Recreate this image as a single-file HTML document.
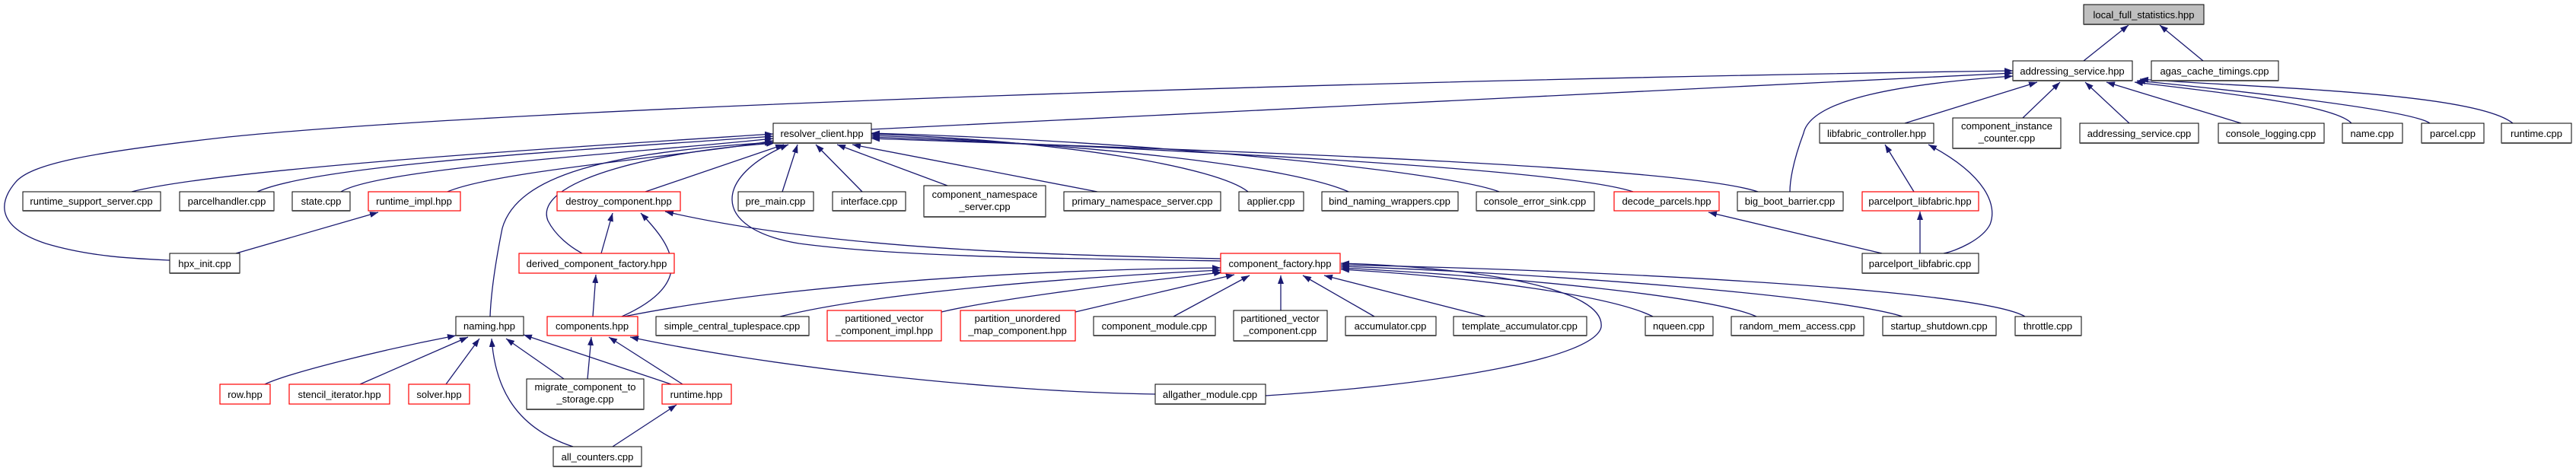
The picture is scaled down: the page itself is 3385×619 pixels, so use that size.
<!DOCTYPE html>
<html><head><meta charset="utf-8"><style>
html,body{margin:0;padding:0;background:#fff;}
svg{display:block;}
text{font-family:"Liberation Sans",Arial,sans-serif;font-size:13px;fill:#000;text-anchor:middle;}
.b{fill:#fff;stroke:#000;stroke-width:1;}
.r{fill:#fff;stroke:#ff0000;stroke-width:1.2;}
.g{fill:#bfbfbf;stroke:#000;stroke-width:1;}
.s{stroke:#555;stroke-width:2;}
.e{fill:none;stroke:#191970;stroke-width:1.3;marker-start:url(#a);}
</style></head><body>
<svg width="3385" height="619" viewBox="0 0 3385 619" xmlns="http://www.w3.org/2000/svg">
<defs><marker id="a" viewBox="0 0 11 8" refX="11" refY="4" markerWidth="11" markerHeight="8" markerUnits="userSpaceOnUse" orient="auto-start-reverse"><path d="M0,0 L11,4 L0,8 z" fill="#191970"/></marker></defs>

<!-- edges -->
<path class="e" d="M2797,33 L2738,80"/>
<path class="e" d="M2838,33 L2895,80"/>
<path class="e" d="M2677,108 L2503,162"/>
<path class="e" d="M2707,108 L2658,155"/>
<path class="e" d="M2740,108 L2798,162"/>
<path class="e" d="M2768,108 L2945,162"/>
<path class="e" d="M2805,108 C2950,125 3070,140 3090,162"/>
<path class="e" d="M2808,106 C2950,120 3170,145 3193,162"/>
<path class="e" d="M2812,104 C2950,115 3250,120 3302,162"/>
<path class="e" d="M2645,100 C2500,110 2380,130 2370,175 C2355,215 2352,240 2352,252"/>
<path class="e" d="M2645,96 L1145,170"/>
<path class="e" d="M2645,93 C1800,105 700,140 300,180 C120,200 40,215 20,240 C-5,270 0,300 60,320 C120,338 180,340 223,342"/>

<path class="e" d="M1016,176 C800,190 300,220 173,252"/>
<path class="e" d="M1016,179 C800,195 420,215 338,252"/>
<path class="e" d="M1016,182 C850,200 500,220 448,252"/>
<path class="e" d="M1016,185 C900,205 650,225 588,252"/>
<path class="e" d="M1016,187 C800,200 680,230 660,300 C650,350 645,390 644,416"/>
<path class="e" d="M1018,188 C850,200 700,240 720,290 C730,310 750,325 765,333"/>
<path class="e" d="M1030,190 L848,252"/>
<path class="e" d="M1048,190 L1028,252"/>
<path class="e" d="M1072,190 L1133,252"/>
<path class="e" d="M1100,190 L1245,244"/>
<path class="e" d="M1120,190 L1442,252"/>
<path class="e" d="M1036,190 C940,230 930,300 1050,320 C1200,340 1450,340 1604,343"/>
<path class="e" d="M1145,176 C1400,185 1600,220 1640,252"/>
<path class="e" d="M1145,178 C1450,190 1700,220 1772,252"/>
<path class="e" d="M1145,175 C1500,185 1900,225 1970,252"/>
<path class="e" d="M1145,180 C1500,195 2050,220 2146,252"/>
<path class="e" d="M1145,182 C1500,195 2200,215 2310,252"/>

<path class="e" d="M874,278 C1100,330 1400,335 1604,340"/>
<path class="e" d="M842,280 C880,320 920,370 817,416"/>
<path class="e" d="M783,361 L779,416"/>
<path class="e" d="M805,280 L790,333"/>
<path class="e" d="M497,279 L310,333"/>

<path class="e" d="M1604,352 C1300,355 1000,380 820,416"/>
<path class="e" d="M1604,355 C1400,365 1150,385 1025,416"/>
<path class="e" d="M1606,358 C1450,375 1300,395 1237,410"/>
<path class="e" d="M1622,361 L1413,410"/>
<path class="e" d="M1642,362 L1542,416"/>
<path class="e" d="M1683,362 L1683,408"/>
<path class="e" d="M1712,362 L1806,416"/>
<path class="e" d="M1740,362 L1952,416"/>
<path class="e" d="M1762,354 C1950,365 2120,390 2172,416"/>
<path class="e" d="M1762,352 C2000,365 2250,390 2308,416"/>
<path class="e" d="M1762,350 C2050,360 2420,390 2500,416"/>
<path class="e" d="M1762,348 C2100,355 2600,380 2661,416"/>
<path class="e" d="M1762,346 C1950,352 2110,380 2104,430 C2095,470 1900,505 1663,520"/>
<path class="e" d="M828,443 C1000,480 1300,515 1518,518"/>

<path class="e" d="M599,441 C500,460 380,490 348,505"/>
<path class="e" d="M615,443 L473,505"/>
<path class="e" d="M630,445 L586,505"/>
<path class="e" d="M646,445 C650,500 670,560 753,587"/>
<path class="e" d="M665,445 L741,498"/>
<path class="e" d="M688,440 L882,505"/>
<path class="e" d="M777,443 L772,498"/>
<path class="e" d="M800,443 L897,505"/>
<path class="e" d="M889,532 L805,587"/>

<path class="e" d="M2477,190 L2515,252"/>
<path class="e" d="M2534,190 C2610,230 2625,270 2615,295 C2605,315 2570,330 2554,333"/>
<path class="e" d="M2523,278 L2523,333"/>
<path class="e" d="M2245,279 L2473,333"/>

<!-- nodes -->
<g>
<rect class="g" x="2738" y="6" width="158" height="26"/><line class="s" x1="2738" y1="32" x2="2896" y2="32"/><text x="2817" y="24">local_full_statistics.hpp</text>

<rect class="b" x="2645" y="80" width="157" height="26"/><line class="s" x1="2645" y1="106" x2="2802" y2="106"/><text x="2723" y="98">addressing_service.hpp</text>
<rect class="b" x="2827" y="80" width="167" height="26"/><line class="s" x1="2827" y1="106" x2="2994" y2="106"/><text x="2910" y="98">agas_cache_timings.cpp</text>

<rect class="b" x="1016" y="162" width="129" height="26"/><line class="s" x1="1016" y1="188" x2="1145" y2="188"/><text x="1080" y="180">resolver_client.hpp</text>
<rect class="b" x="2391" y="162" width="150" height="26"/><line class="s" x1="2391" y1="188" x2="2541" y2="188"/><text x="2466" y="180">libfabric_controller.hpp</text>
<rect class="b" x="2566" y="155" width="142" height="40"/><line class="s" x1="2566" y1="195" x2="2708" y2="195"/><text x="2637" y="170">component_instance</text><text x="2637" y="186">_counter.cpp</text>
<rect class="b" x="2733" y="162" width="156" height="26"/><line class="s" x1="2733" y1="188" x2="2889" y2="188"/><text x="2811" y="180">addressing_service.cpp</text>
<rect class="b" x="2915" y="162" width="139" height="26"/><line class="s" x1="2915" y1="188" x2="3054" y2="188"/><text x="2984" y="180">console_logging.cpp</text>
<rect class="b" x="3078" y="162" width="79" height="26"/><line class="s" x1="3078" y1="188" x2="3157" y2="188"/><text x="3117" y="180">name.cpp</text>
<rect class="b" x="3182" y="162" width="82" height="26"/><line class="s" x1="3182" y1="188" x2="3264" y2="188"/><text x="3223" y="180">parcel.cpp</text>
<rect class="b" x="3287" y="162" width="92" height="26"/><line class="s" x1="3287" y1="188" x2="3379" y2="188"/><text x="3333" y="180">runtime.cpp</text>

<rect class="b" x="30" y="252" width="181" height="25"/><line class="s" x1="30" y1="277" x2="211" y2="277"/><text x="120" y="269">runtime_support_server.cpp</text>
<rect class="b" x="236" y="252" width="124" height="25"/><line class="s" x1="236" y1="277" x2="360" y2="277"/><text x="298" y="269">parcelhandler.cpp</text>
<rect class="b" x="384" y="252" width="76" height="25"/><line class="s" x1="384" y1="277" x2="460" y2="277"/><text x="422" y="269">state.cpp</text>
<rect class="r" x="484" y="252" width="121" height="25"/><text x="544" y="269">runtime_impl.hpp</text>
<rect class="r" x="732" y="252" width="162" height="25"/><text x="813" y="269">destroy_component.hpp</text>
<rect class="b" x="970" y="252" width="99" height="25"/><line class="s" x1="970" y1="277" x2="1069" y2="277"/><text x="1019" y="269">pre_main.cpp</text>
<rect class="b" x="1094" y="252" width="96" height="25"/><line class="s" x1="1094" y1="277" x2="1190" y2="277"/><text x="1142" y="269">interface.cpp</text>
<rect class="b" x="1214" y="244" width="160" height="41"/><line class="s" x1="1214" y1="285" x2="1374" y2="285"/><text x="1294" y="260">component_namespace</text><text x="1294" y="276">_server.cpp</text>
<rect class="b" x="1398" y="252" width="206" height="25"/><line class="s" x1="1398" y1="277" x2="1604" y2="277"/><text x="1501" y="269">primary_namespace_server.cpp</text>
<rect class="b" x="1628" y="252" width="85" height="25"/><line class="s" x1="1628" y1="277" x2="1713" y2="277"/><text x="1670" y="269">applier.cpp</text>
<rect class="b" x="1737" y="252" width="179" height="25"/><line class="s" x1="1737" y1="277" x2="1916" y2="277"/><text x="1826" y="269">bind_naming_wrappers.cpp</text>
<rect class="b" x="1940" y="252" width="155" height="25"/><line class="s" x1="1940" y1="277" x2="2095" y2="277"/><text x="2017" y="269">console_error_sink.cpp</text>
<rect class="r" x="2121" y="252" width="138" height="25"/><text x="2190" y="269">decode_parcels.hpp</text>
<rect class="b" x="2283" y="252" width="139" height="25"/><line class="s" x1="2283" y1="277" x2="2422" y2="277"/><text x="2352" y="269">big_boot_barrier.cpp</text>
<rect class="r" x="2447" y="252" width="153" height="25"/><text x="2523" y="269">parcelport_libfabric.hpp</text>

<rect class="b" x="223" y="333" width="92" height="26"/><line class="s" x1="223" y1="359" x2="315" y2="359"/><text x="269" y="351">hpx_init.cpp</text>
<rect class="r" x="682" y="333" width="204" height="26"/><text x="784" y="351">derived_component_factory.hpp</text>
<rect class="r" x="1604" y="333" width="157" height="26"/><text x="1682" y="351">component_factory.hpp</text>
<rect class="b" x="2447" y="333" width="153" height="26"/><line class="s" x1="2447" y1="359" x2="2600" y2="359"/><text x="2523" y="351">parcelport_libfabric.cpp</text>

<rect class="b" x="599" y="416" width="89" height="25"/><line class="s" x1="599" y1="441" x2="688" y2="441"/><text x="643" y="433">naming.hpp</text>
<rect class="r" x="719" y="416" width="119" height="25"/><text x="778" y="433">components.hpp</text>
<rect class="b" x="862" y="416" width="201" height="25"/><line class="s" x1="862" y1="441" x2="1063" y2="441"/><text x="962" y="433">simple_central_tuplespace.cpp</text>
<rect class="r" x="1087" y="408" width="150" height="40"/><text x="1162" y="423">partitioned_vector</text><text x="1162" y="439">_component_impl.hpp</text>
<rect class="r" x="1262" y="408" width="151" height="40"/><text x="1337" y="423">partition_unordered</text><text x="1337" y="439">_map_component.hpp</text>
<rect class="b" x="1437" y="416" width="160" height="25"/><line class="s" x1="1437" y1="441" x2="1597" y2="441"/><text x="1517" y="433">component_module.cpp</text>
<rect class="b" x="1621" y="408" width="123" height="40"/><line class="s" x1="1621" y1="448" x2="1744" y2="448"/><text x="1682" y="423">partitioned_vector</text><text x="1682" y="439">_component.cpp</text>
<rect class="b" x="1768" y="416" width="119" height="25"/><line class="s" x1="1768" y1="441" x2="1887" y2="441"/><text x="1827" y="433">accumulator.cpp</text>
<rect class="b" x="1910" y="416" width="175" height="25"/><line class="s" x1="1910" y1="441" x2="2085" y2="441"/><text x="1997" y="433">template_accumulator.cpp</text>
<rect class="b" x="2162" y="416" width="89" height="25"/><line class="s" x1="2162" y1="441" x2="2251" y2="441"/><text x="2206" y="433">nqueen.cpp</text>
<rect class="b" x="2275" y="416" width="174" height="25"/><line class="s" x1="2275" y1="441" x2="2449" y2="441"/><text x="2362" y="433">random_mem_access.cpp</text>
<rect class="b" x="2474" y="416" width="149" height="25"/><line class="s" x1="2474" y1="441" x2="2623" y2="441"/><text x="2548" y="433">startup_shutdown.cpp</text>
<rect class="b" x="2648" y="416" width="87" height="25"/><line class="s" x1="2648" y1="441" x2="2735" y2="441"/><text x="2691" y="433">throttle.cpp</text>

<rect class="r" x="289" y="505" width="66" height="26"/><text x="322" y="523">row.hpp</text>
<rect class="r" x="380" y="505" width="132" height="26"/><text x="446" y="523">stencil_iterator.hpp</text>
<rect class="r" x="537" y="505" width="80" height="26"/><text x="577" y="523">solver.hpp</text>
<rect class="b" x="692" y="498" width="154" height="40"/><line class="s" x1="692" y1="538" x2="846" y2="538"/><text x="769" y="513">migrate_component_to</text><text x="769" y="529">_storage.cpp</text>
<rect class="r" x="870" y="505" width="91" height="26"/><text x="915" y="523">runtime.hpp</text>
<rect class="b" x="1518" y="505" width="145" height="26"/><line class="s" x1="1518" y1="531" x2="1663" y2="531"/><text x="1590" y="523">allgather_module.cpp</text>

<rect class="b" x="727" y="587" width="116" height="26"/><line class="s" x1="727" y1="613" x2="843" y2="613"/><text x="785" y="605">all_counters.cpp</text>
</g>
</svg>
</body></html>
